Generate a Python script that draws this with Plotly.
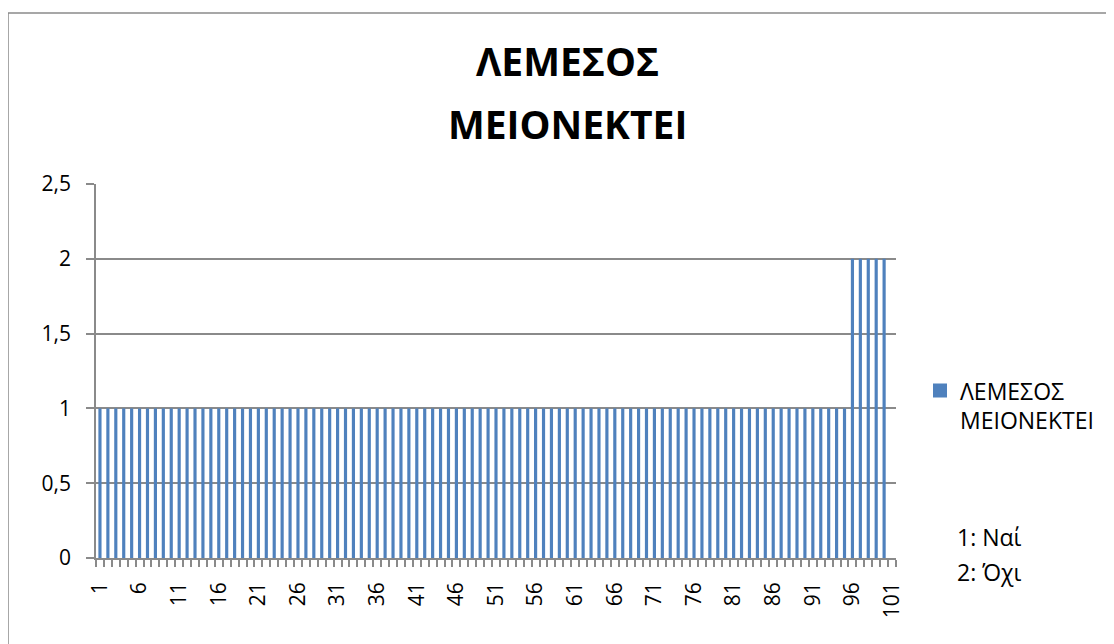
import plotly.graph_objects as go

# categories 1..101 as on the x axis
categories = list(range(1, 102))

# 1: Ναί, 2: Όχι  (last category is empty in the source sheet)
values = [
    1, 1, 1, 1, 1, 1, 1, 1, 1, 1, 1, 1, 1, 1, 1, 1, 1, 1, 1, 1,
    1, 1, 1, 1, 1, 1, 1, 1, 1, 1, 1, 1, 1, 1, 1, 1, 1, 1, 1, 1,
    1, 1, 1, 1, 1, 1, 1, 1, 1, 1, 1, 1, 1, 1, 1, 1, 1, 1, 1, 1,
    1, 1, 1, 1, 1, 1, 1, 1, 1, 1, 1, 1, 1, 1, 1, 1, 1, 1, 1, 1,
    1, 1, 1, 1, 1, 1, 1, 1, 1, 1, 1, 1, 1, 1, 1, 2, 2, 2, 2, 2,
    None,
]

x_labels = [1, 6, 11, 16, 21, 26, 31, 36, 41, 46, 51, 56, 61, 66, 71, 76, 81, 86, 91, 96, 101]
y_ticks = [0, 0.5, 1, 1.5, 2, 2.5]

series_name = "ΛΕΜΕΣΟΣ<br>ΜΕΙΟΝΕΚΤΕΙ"
title_lines = ["ΛΕΜΕΣΟΣ", "ΜΕΙΟΝΕΚΤΕΙ"]
notes = ["1: Ναί", "2: Όχι"]

FONT = "Open Sans, Noto Sans, DejaVu Sans, sans-serif"
GREY = "#8a8a8a"
BLUE = "#4f81bd"

fig = go.Figure()
fig.add_trace(go.Bar(x=categories, y=values, name=series_name,
                     marker=dict(color=BLUE, line=dict(width=0)),
                     showlegend=False))
# legend entry with a bigger square swatch, like the Excel legend
fig.add_trace(go.Scatter(x=[None], y=[None], mode="markers", name=series_name,
                         marker=dict(symbol="square", size=14, color=BLUE),
                         showlegend=True))

# page body has an 8px margin, so the margins are shifted by 8 to compensate
fig.update_layout(
    width=1114, height=644,
    margin=dict(l=88, r=226, t=176, b=94, autoexpand=False),
    paper_bgcolor="white", plot_bgcolor="white",
    separators=",.",
    bargap=0.6,
    font=dict(family=FONT, size=18, color="black"),
    showlegend=True,
    legend=dict(x=1.03, y=0.505, xanchor="left", yanchor="top",
                valign="top", font=dict(size=23), itemwidth=30,
                bgcolor="rgba(0,0,0,0)", tracegroupgap=0),
)

fig.update_xaxes(
    type="linear", range=[0.5, 101.5],
    tickvals=x_labels, ticktext=[str(v) for v in x_labels],
    tickangle=-90, ticks="", ticklabelstandoff=14,
    showgrid=False, zeroline=False,
    showline=True, linecolor=GREY, linewidth=1.5,
    tickfont=dict(size=21),
    minor=dict(tick0=0.5, dtick=1, ticks="outside", ticklen=7,
               tickcolor=GREY, tickwidth=1.5, showgrid=False),
    automargin=False,
)
fig.update_yaxes(
    range=[0, 2.5], tickvals=y_ticks,
    ticks="outside", ticklen=8, tickcolor=GREY, tickwidth=1.5,
    ticklabelstandoff=11,
    showgrid=True, gridcolor=GREY, gridwidth=1.5,
    zeroline=False, showline=True, linecolor=GREY, linewidth=1.5,
    tickfont=dict(size=21),
    automargin=False,
)

# chart area border
fig.add_shape(type="rect", xref="paper", yref="paper",
              x0=-0.11, y0=-0.35, x1=1.3, y1=1.457,
              line=dict(color=GREY, width=1.5), layer="below")

# two-line bold title
for text, yy in zip(title_lines, [1.329, 1.163]):
    fig.add_annotation(text=f"<b>{text}</b>", xref="paper", yref="paper",
                       x=0.589, y=yy, xanchor="center", yanchor="middle",
                       showarrow=False, font=dict(size=39, family=FONT))

for text, yy in zip(notes, [0.056, -0.037]):
    fig.add_annotation(text=text, xref="paper", yref="paper",
                       x=1.074, y=yy, xanchor="left", yanchor="middle",
                       showarrow=False, font=dict(size=23, family=FONT))

fig.write_html("out.html")
